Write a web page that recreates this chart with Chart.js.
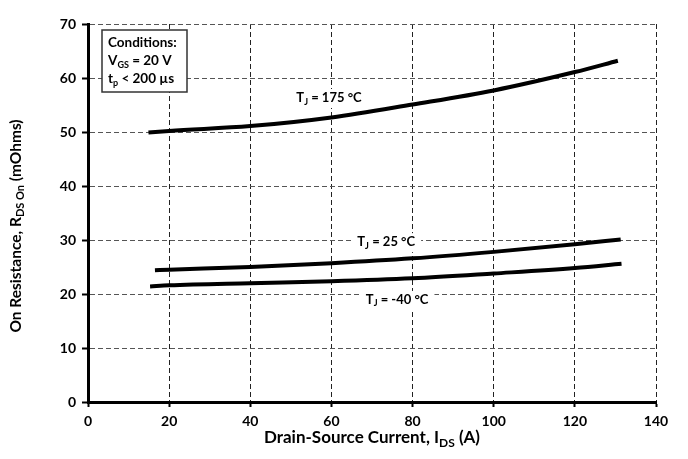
<!DOCTYPE html>
<html>
<head>
<meta charset="utf-8">
<script src="https://cdn.jsdelivr.net/npm/chart.js@4.4.1/dist/chart.umd.min.js"></script>
<style>
  html, body { margin: 0; padding: 0; background: #fff; }
  canvas { display: block; }
</style>
</head>
<body>
<canvas id="chart" width="688" height="459"></canvas>
<script>
// values
const xTicks = [0, 20, 40, 60, 80, 100, 120, 140];
const yTicks = [0, 10, 20, 30, 40, 50, 60, 70];

const current175 = [14.9, 20, 40, 60, 80, 100, 120, 130.6];
const rds175 = [49.9, 50.2, 51.1, 52.7, 55.1, 57.7, 61.1, 63.2];

const current25 = [16.5, 20, 40, 60, 80, 100, 120, 131.3];
const rds25 = [24.4, 24.5, 25.0, 25.7, 26.6, 27.8, 29.2, 30.1];

const currentM40 = [15.3, 20, 40, 60, 80, 100, 120, 131.5];
const rdsM40 = [21.4, 21.6, 22.0, 22.35, 22.9, 23.8, 24.8, 25.6];

// curve labels, anchored in data units
const curveLabels = [
  { x: 59.4, y: 56.3, sub: 'J', text: ' = 175 °C' },
  { x: 73.5, y: 29.6, sub: 'J', text: ' = 25 °C' },
  { x: 76.2, y: 18.9, sub: 'J', text: ' = -40 °C' }
];

const FONT = 'Lato, "Open Sans", sans-serif';

const toPoints = (xs, ys) => xs.map((x, i) => ({ x: x, y: ys[i] }));

// measure a run of text pieces, some subscripted
function measureRich(ctx, parts, size) {
  const subSize = Math.round(size * 0.68);
  let total = 0;
  parts.forEach(p => {
    ctx.font = 'bold ' + (p.sub ? subSize : size) + 'px ' + FONT;
    p.w = ctx.measureText(p.t).width;
    total += p.w;
  });
  return total;
}

function richText(ctx, parts, x, y, size, align) {
  const subSize = Math.round(size * 0.68);
  const total = measureRich(ctx, parts, size);
  let cx = align === 'center' ? x - total / 2 : x;
  ctx.textBaseline = 'middle';
  ctx.textAlign = 'left';
  parts.forEach(p => {
    ctx.font = 'bold ' + (p.sub ? subSize : size) + 'px ' + FONT;
    ctx.fillText(p.t, cx, p.sub ? y + size * 0.28 : y);
    cx += p.w;
  });
}

const decorations = {
  id: 'decorations',
  afterDraw(chart) {
    const ctx = chart.ctx;
    const xs = chart.scales.x;
    const ys = chart.scales.y;
    ctx.save();
    ctx.fillStyle = '#000';

    // axis titles
    richText(ctx, [{ t: 'Drain-Source Current, I' }, { t: 'DS', sub: true }, { t: ' (A)' }],
      (chart.chartArea.left + chart.chartArea.right) / 2, 438, 17, 'center');
    ctx.save();
    ctx.translate(16, 226);
    ctx.rotate(-Math.PI / 2);
    richText(ctx, [{ t: 'On Resistance, R' }, { t: 'DS On', sub: true }, { t: ' (mOhms)' }],
      0, 0, 15.5, 'center');
    ctx.restore();

    // curve labels on a white patch that breaks the grid
    curveLabels.forEach(l => {
      const parts = [{ t: 'T' }, { t: l.sub, sub: true }, { t: l.text }];
      const px = xs.getPixelForValue(l.x);
      const py = ys.getPixelForValue(l.y);
      const w = measureRich(ctx, parts, 13);
      ctx.fillStyle = '#fff';
      ctx.fillRect(px - w / 2 - 6, py - 9, w + 12, 19);
      ctx.fillStyle = '#000';
      richText(ctx, parts, px, py, 13, 'center');
    });

    // conditions box
    ctx.fillStyle = '#fff';
    ctx.fillRect(102, 30, 85, 62);
    ctx.strokeStyle = '#333';
    ctx.lineWidth = 1.5;
    ctx.strokeRect(102, 30, 85, 62);
    ctx.fillStyle = '#000';
    richText(ctx, [{ t: 'Conditions:' }], 108, 43, 13.5, 'left');
    richText(ctx, [{ t: 'V' }, { t: 'GS', sub: true }, { t: ' = 20 V' }], 108, 61, 13.5, 'left');
    richText(ctx, [{ t: 't' }, { t: 'p', sub: true }, { t: ' < 200 µs' }], 108, 79, 13.5, 'left');
    ctx.restore();
  }
};

const lineStyle = {
  showLine: true,
  borderColor: '#000',
  borderWidth: 4,
  pointRadius: 0,
  fill: false,
  cubicInterpolationMode: 'monotone'
};

new Chart(document.getElementById('chart'), {
  type: 'scatter',
  data: {
    datasets: [
      Object.assign({ label: 'TJ = 175 °C', data: toPoints(current175, rds175) }, lineStyle),
      Object.assign({ label: 'TJ = 25 °C', data: toPoints(current25, rds25) }, lineStyle),
      Object.assign({ label: 'TJ = -40 °C', data: toPoints(currentM40, rdsM40) }, lineStyle)
    ]
  },
  options: {
    responsive: false,
    animation: false,
    devicePixelRatio: 1,
    layout: { padding: { top: 24, right: 32, left: 0, bottom: 0 } },
    plugins: {
      legend: { display: false },
      tooltip: { enabled: false }
    },
    scales: {
      x: {
        type: 'linear',
        min: 0,
        max: 140,
        afterBuildTicks: s => { s.ticks = xTicks.map(v => ({ value: v })); },
        afterFit: s => { s.height = 57; },
        ticks: {
          color: '#000',
          padding: 6,
          font: { family: FONT, size: 14, weight: 'bold' }
        },
        grid: {
          color: '#222',
          lineWidth: 1,
          tickLength: 5,
          tickColor: '#000',
          tickWidth: 2,
          tickBorderDash: []
        },
        border: { display: true, color: '#000', width: 3, dash: [5, 3] }
      },
      y: {
        type: 'linear',
        min: 0,
        max: 70,
        afterBuildTicks: s => { s.ticks = yTicks.map(v => ({ value: v })); },
        afterFit: s => { s.width = 88; },
        ticks: {
          color: '#000',
          padding: 6,
          font: { family: FONT, size: 14, weight: 'bold' }
        },
        grid: {
          color: '#555',
          lineWidth: 1,
          tickLength: 6,
          tickColor: '#000',
          tickWidth: 2,
          tickBorderDash: []
        },
        border: { display: true, color: '#000', width: 3, dash: [5, 3] }
      }
    }
  },
  plugins: [decorations]
});
</script>
</body>
</html>
